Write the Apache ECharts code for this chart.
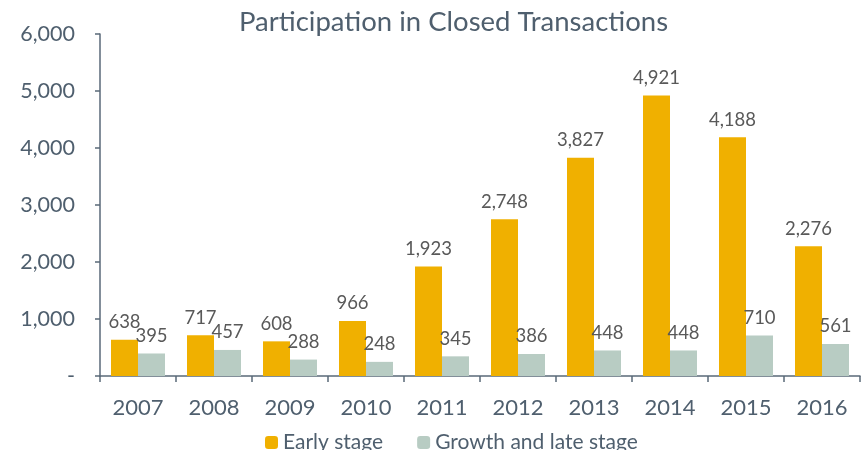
<!DOCTYPE html>
<html><head><meta charset="utf-8">
<script src="https://cdn.jsdelivr.net/npm/echarts@6/dist/echarts.min.js"></script>
<style>html,body{margin:0;padding:0;background:#fff}#c{width:866px;height:450px}</style>
</head><body><div id="c"></div>
<script>
const years = ['2007','2008','2009','2010','2011','2012','2013','2014','2015','2016'];
const earlyStage = [638,717,608,966,1923,2748,3827,4921,4188,2276];
const growthLate = [395,457,288,248,345,386,448,448,710,561];
const seriesNames = ['Early stage','Growth and late stage'];
const FONT = 'Lato, "Open Sans", sans-serif';
const fmt = v => v === 0 ? '-' : v.toLocaleString('en-US');
const chart = echarts.init(document.getElementById('c'));
chart.setOption({
  animation:false,
  title:{text:'Participation in Closed Transactions',left:234,top:3,
    textStyle:{fontFamily:FONT,fontSize:27.5,fontWeight:'normal',color:'#4f5f6e'}},
  grid:{left:100,right:6,top:34,bottom:74,containLabel:false},
  legend:{bottom:-8,left:260,itemWidth:13,itemHeight:13,itemGap:34,
    textStyle:{fontFamily:FONT,fontSize:21,color:'#4f5f6e'},
    data:seriesNames},
  xAxis:{type:'category',data:years,
    axisLine:{lineStyle:{color:'#5a6978',width:1.5}},
    axisTick:{show:true,alignWithLabel:false,length:6,lineStyle:{color:'#5a6978',width:1.5}},
    axisLabel:{fontFamily:FONT,fontSize:22,color:'#4f5f6e',margin:21}},
  yAxis:{type:'value',min:0,max:6000,interval:1000,
    axisLine:{show:true,lineStyle:{color:'#5a6978',width:1.5}},
    axisTick:{show:true,length:5,lineStyle:{color:'#5a6978',width:1.5}},
    splitLine:{show:false},
    axisLabel:{fontFamily:FONT,fontSize:21.5,color:'#4f5f6e',margin:25,formatter:fmt}},
  series:[
    {name:seriesNames[0],type:'bar',data:earlyStage,barWidth:27,barGap:'0%',
      itemStyle:{color:'#f0b000'},
      label:{show:true,position:'top',distance:8,fontFamily:FONT,fontSize:18.5,color:'#595959',formatter:p=>fmt(p.value)}},
    {name:seriesNames[1],type:'bar',data:growthLate,barWidth:27,
      itemStyle:{color:'#b8ccc3'},
      label:{show:true,position:'top',distance:8,fontFamily:FONT,fontSize:18.5,color:'#595959',formatter:p=>fmt(p.value)}}
  ]
});
</script></body></html>
